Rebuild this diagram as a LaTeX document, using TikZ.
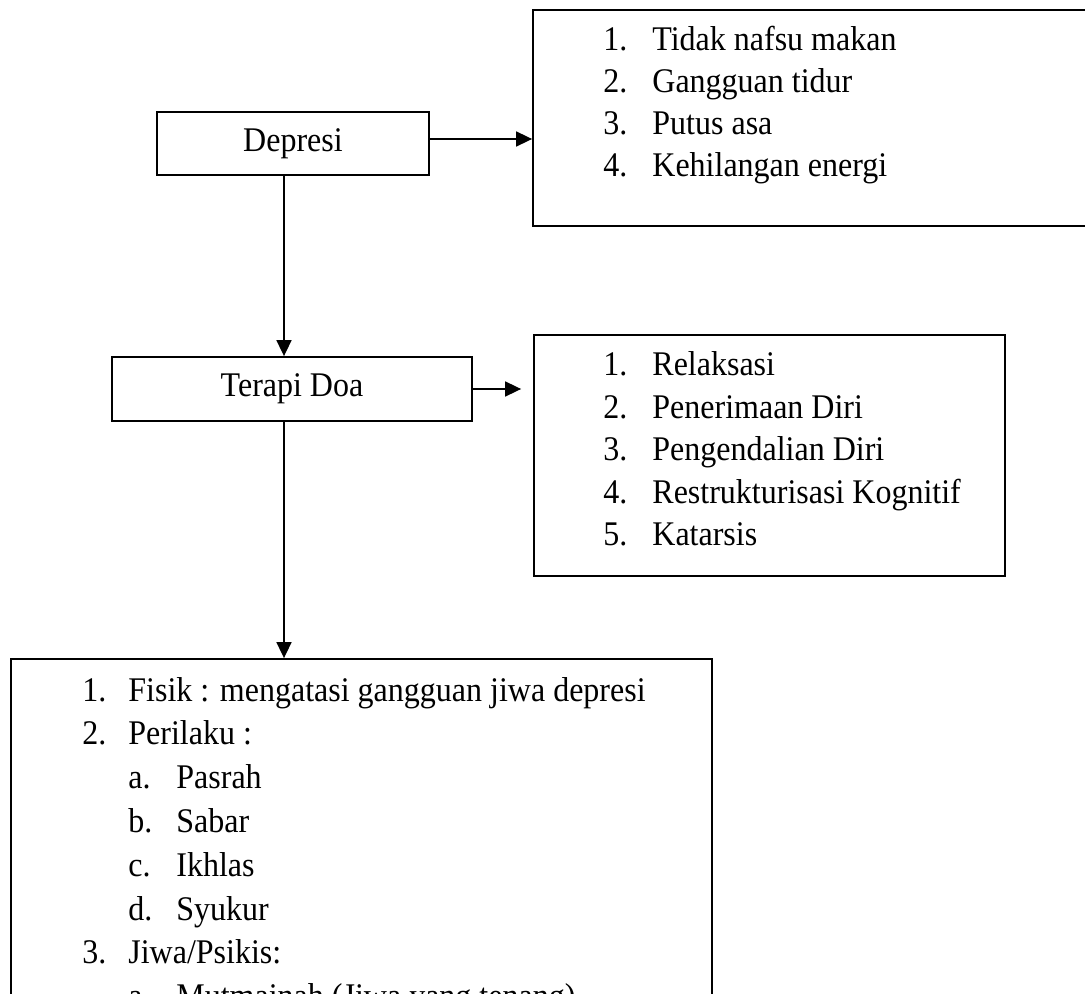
\documentclass[tikz,border=0pt]{standalone}
\usepackage{graphicx}
\usepackage{fontspec}
\setmainfont{Liberation Serif}
\usetikzlibrary{arrows.meta}
\newcommand{\tallt}[1]{\scalebox{1}[1.08]{#1}}
\begin{document}
\begin{tikzpicture}[x=0.5pt,y=-0.5pt,
  box/.style={draw, line width=0.9pt, inner sep=0pt, font=\fontsize{16}{16}\selectfont},
  item/.style={anchor=base west, inner sep=0pt, font=\fontsize{16}{16}\selectfont},
  arr/.style={line width=0.85pt, -{Triangle[length=8pt, width=7.5pt]}}]
\useasboundingbox (0,0) rectangle (1085,994);
\clip (0,0) rectangle (1085,994);
\fill[white] (0,0) rectangle (1085,994);
% boxes
\node[box, minimum width=136pt, minimum height=31.5pt] (dep) at (293,143.5) {\tallt{Depresi}};
\node[box, minimum width=180pt, minimum height=32pt] (ter) at (292,389) {\tallt{Terapi Doa}};
\node[box, minimum width=283.5pt, minimum height=108pt] (sym) at (816.5,118) {};
\node[box, minimum width=235.5pt, minimum height=120.5pt] (mech) at (769.5,455.5) {};
\node[box, minimum width=350.5pt, minimum height=175.5pt] (eff) at (361.5,834.5) {};
% connectors
\draw[arr] ([yshift=2.25pt]dep.east) -- ([yshift=2.25pt]dep.east -| sym.west);
\draw[arr] ([xshift=-4.5pt]dep.south) -- ([xshift=-4.5pt]dep.south |- ter.north);
\draw[arr] (ter.east) -- ([xshift=-6pt]ter.east -| mech.west);
\draw[arr] ([xshift=-4pt]ter.south) -- ([xshift=-4pt]ter.south |- eff.north);
% symptoms
\node[item] (s1n) at (603,51) {\tallt{1.}};  \node[item] (s1) at (652,51) {\tallt{Tidak nafsu makan}};
\node[item] (s2n) at (603,93) {\tallt{2.}};  \node[item] (s2) at (652,93) {\tallt{Gangguan tidur}};
\node[item] (s3n) at (603,135) {\tallt{3.}}; \node[item] (s3) at (652,135) {\tallt{Putus asa}};
\node[item] (s4n) at (603,177) {\tallt{4.}}; \node[item] (s4) at (652,177) {\tallt{Kehilangan energi}};
% mechanisms
\node[item] (m1n) at (603,375) {\tallt{1.}}; \node[item] (m1) at (652,375) {\tallt{Relaksasi}};
\node[item] (m2n) at (603,418) {\tallt{2.}}; \node[item] (m2) at (652,418) {\tallt{Penerimaan Diri}};
\node[item] (m3n) at (603,460) {\tallt{3.}}; \node[item] (m3) at (652,460) {\tallt{Pengendalian Diri}};
\node[item] (m4n) at (603,503) {\tallt{4.}}; \node[item] (m4) at (652,503) {\tallt{Restrukturisasi Kognitif}};
\node[item] (m5n) at (603,545) {\tallt{5.}}; \node[item] (m5) at (652,545) {\tallt{Katarsis}};
% effects
\node[item] (e1n) at (82,701) {\tallt{1.}};  \node[item] (e1) at (128,701) {\tallt{Fisik : mengatasi gangguan jiwa depresi}};
\node[item] (e2n) at (82,744) {\tallt{2.}};  \node[item] (e2) at (128,744) {\tallt{Perilaku :}};
\node[item] (e2a) at (128,788) {\tallt{a.}}; \node[item] (e2at) at (176,788) {\tallt{Pasrah}};
\node[item] (e2b) at (128,832) {\tallt{b.}}; \node[item] (e2bt) at (176,832) {\tallt{Sabar}};
\node[item] (e2c) at (128,876) {\tallt{c.}}; \node[item] (e2ct) at (176,876) {\tallt{Ikhlas}};
\node[item] (e2d) at (128,920) {\tallt{d.}}; \node[item] (e2dt) at (176,920) {\tallt{Syukur}};
\node[item] (e3n) at (82,963) {\tallt{3.}};  \node[item] (e3) at (128,963) {\tallt{Jiwa/Psikis:}};
\node[item] (e3a) at (128,1007) {\tallt{a.}}; \node[item] (e3at) at (176,1007) {\tallt{Mutmainah (Jiwa yang tenang)}};
\end{tikzpicture}
\end{document}
